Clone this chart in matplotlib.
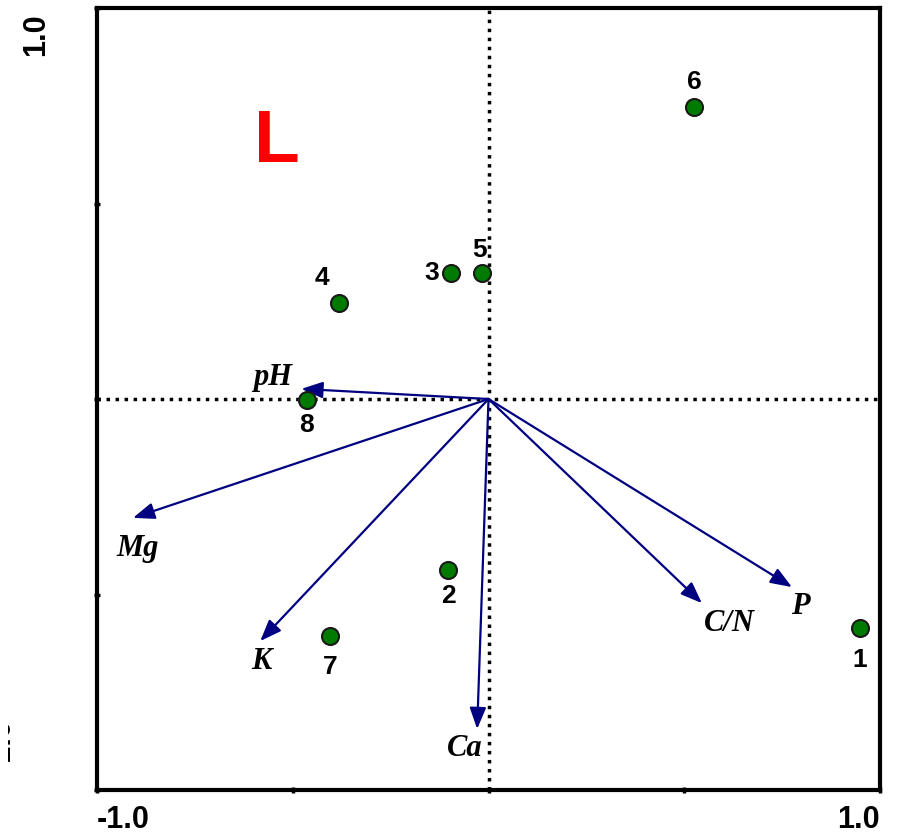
#!/usr/bin/env python3
'''ordination biplot: sites and soil variables'''
import matplotlib
matplotlib.use('Agg')
import matplotlib.pyplot as plt
from matplotlib.patches import Rectangle

# site scores
site_ids = ['1', '2', '3', '4', '5', '6', '7', '8']
site_x = [0.949, -0.103, -0.096, -0.382, -0.017, 0.525, -0.405, -0.464]
site_y = [-0.586, -0.437, 0.322, 0.246, 0.322, 0.747, -0.606, -0.003]

# environmental variable arrows
var_names = ['pH', 'Mg', 'K', 'Ca', 'C/N', 'P']
var_x = [-0.478, -0.908, -0.583, -0.029, 0.545, 0.775]
var_y = [0.026, -0.304, -0.619, -0.844, -0.522, -0.481]

# label offsets (points) for sites and variables
site_off = [(0, -23), (0, -19), (-14, 0), (-12, 18), (-2, 17), (0, 18), (0, -22), (0, -18)]
var_off = [(-21, 8), (3, -22), (1, -15), (-9, -14), (20, -15), (6, -14)]

fig = plt.figure(figsize=(8.97, 8.36), dpi=100)
ax = fig.add_axes([0.1081, 0.055, 0.873, 0.9354])
ax.set_xlim(-1, 1)
ax.set_ylim(-1, 1)

# dotted zero lines
ax.axhline(0, color='black', ls=(0, (1, 1.6)), lw=2.5, zorder=1)
ax.axvline(0, color='black', ls=(0, (1, 1.6)), lw=2.5, zorder=1)

# arrows
for name, x, y, off in zip(var_names, var_x, var_y, var_off):
    ax.annotate('', xy=(x, y), xytext=(0, 0),
                arrowprops=dict(arrowstyle='-|>,head_length=1.3,head_width=0.5',
                                color='#000080', lw=1.6, shrinkA=0, shrinkB=0),
                zorder=2)
    ax.annotate(name, xy=(x, y), xytext=off, textcoords='offset points',
                ha='center', va='center', fontsize=22, family='Liberation Serif',
                fontweight='bold', fontstyle='italic', color='black', zorder=4)

# sites
ax.scatter(site_x, site_y, s=150, c='#007a00', edgecolors='#1a1a1a', linewidths=1.5, zorder=3)
for sid, x, y, off in zip(site_ids, site_x, site_y, site_off):
    ax.annotate(sid, xy=(x, y), xytext=off, textcoords='offset points',
                ha='center', va='center', fontsize=19, family='Liberation Sans',
                fontweight='bold', zorder=4)

ax.text(-0.54, 0.655, 'L', color='red', fontsize=54, family='Liberation Sans',
        fontweight='bold', ha='center', va='center')

for s in ax.spines.values():
    s.set_linewidth(3)

ax.set_xticks([-1, -0.5, 0, 0.5, 1])
ax.set_xticklabels(['-1.0', '', '', '', '1.0'])
ax.set_yticks([-1, -0.5, 0, 0.5, 1])
ax.set_yticklabels([])
ax.tick_params(direction='inout', length=5, width=2.5, pad=8)
xlabs = ax.get_xticklabels()
for lab in xlabs:
    lab.set_fontsize(22)
    lab.set_fontweight('bold')
    lab.set_family('Liberation Sans')
xlabs[0].set_horizontalalignment('left')
xlabs[-1].set_horizontalalignment('right')

fig.text(0.04, 0.958, '1.0', rotation=90, ha='center', va='center', fontsize=22,
         fontweight='bold', family='Liberation Sans')
# partly hidden lower y label, as in the source figure
fig.text(0.002, 0.109, '-1.0', rotation=90, ha='center', va='center', fontsize=22,
         fontweight='bold', family='Liberation Sans', zorder=1)
fig.patches.append(Rectangle((0, 0.05), 0.0089, 0.15, transform=fig.transFigure,
                             facecolor='white', edgecolor='none', zorder=5))

fig.savefig('out.png', dpi=100)
